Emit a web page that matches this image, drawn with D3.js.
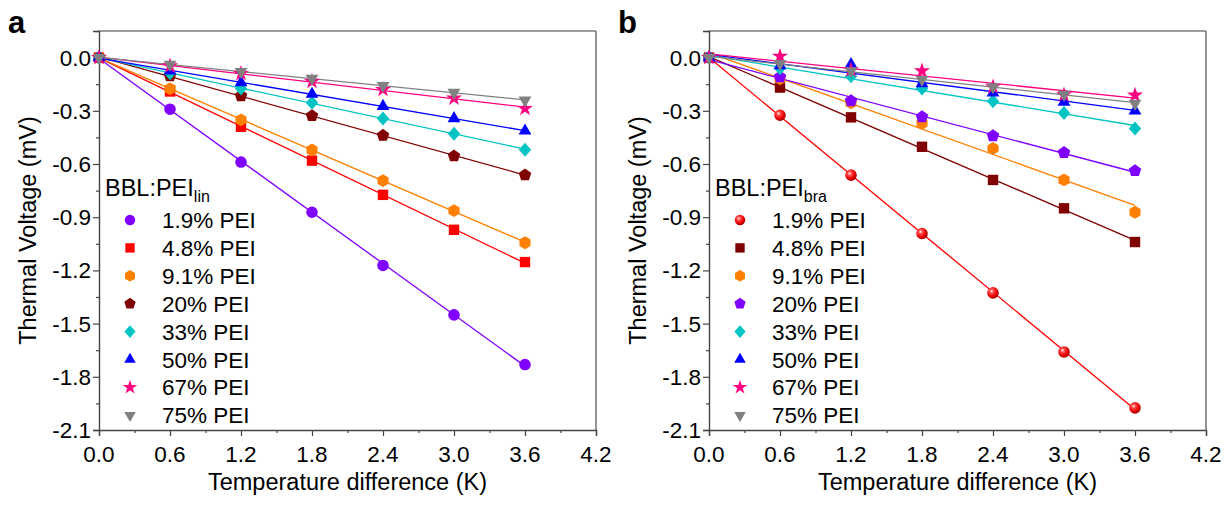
<!DOCTYPE html>
<html>
<head>
<meta charset="utf-8">
<script src="https://cdn.jsdelivr.net/npm/d3@7"></script>
<style>
  html, body { margin: 0; padding: 0; background: #fff; }
  svg { display: block; }
  text { font-family: "Liberation Sans", Arial, sans-serif; fill: #000; }
</style>
</head>
<body>
<svg id="chart" width="1231" height="506"></svg>
<script>
// ---------------- DATA ----------------
const tempDiff = [0, 0.6, 1.2, 1.8, 2.4, 3.0, 3.6];
const seriesLabels = ["1.9% PEI", "4.8% PEI", "9.1% PEI", "20% PEI", "33% PEI", "50% PEI", "67% PEI", "75% PEI"];
const xTickValues = [0, 0.6, 1.2, 1.8, 2.4, 3.0, 3.6, 4.2];
const xTickLabels = ["0.0", "0.6", "1.2", "1.8", "2.4", "3.0", "3.6", "4.2"];
const yTickValues = [0, -0.3, -0.6, -0.9, -1.2, -1.5, -1.8, -2.1];
const yTickLabels = ["0.0", "-0.3", "-0.6", "-0.9", "-1.2", "-1.5", "-1.8", "-2.1"];

// Panel a: BBL:PEI_lin (mV)
const lin_1_9 = [0, -0.291, -0.589, -0.872, -1.172, -1.451, -1.731];
const lin_4_8 = [0, -0.191, -0.390, -0.581, -0.774, -0.971, -1.153];
const lin_9_1 = [0, -0.176, -0.351, -0.521, -0.694, -0.863, -1.044];
const lin_20  = [0, -0.103, -0.216, -0.328, -0.439, -0.555, -0.662];
const lin_33  = [0, -0.088, -0.174, -0.255, -0.343, -0.429, -0.519];
const lin_50  = [0, -0.075, -0.141, -0.206, -0.274, -0.343, -0.413];
const lin_67  = [0, -0.047, -0.090, -0.135, -0.180, -0.229, -0.287];
const lin_75  = [0, -0.038, -0.079, -0.118, -0.158, -0.197, -0.240];

// Panel b: BBL:PEI_bra (mV)
const bra_1_9 = [0, -0.325, -0.663, -0.992, -1.327, -1.660, -1.975];
const bra_4_8 = [0, -0.169, -0.337, -0.503, -0.690, -0.850, -1.040];
const bra_9_1 = [0, -0.120, -0.255, -0.371, -0.512, -0.690, -0.872];
const bra_20  = [0, -0.109, -0.244, -0.334, -0.441, -0.536, -0.638];
const bra_33  = [0, -0.060, -0.105, -0.174, -0.246, -0.312, -0.400];
const bra_50  = [0, -0.045, -0.038, -0.146, -0.199, -0.250, -0.300];
const bra_67  = [0, 0.007, -0.070, -0.075, -0.165, -0.210, -0.212];
const bra_75  = [0, -0.034, -0.075, -0.124, -0.165, -0.208, -0.259];

// ---------------- STYLE ----------------
const C = { purple: "#8000FF", red: "#FF0000", orange: "#FF8000", darkred: "#800000",
            cyan: "#00C4C4", blue: "#0000FF", pink: "#FF0080", gray: "#808080" };
const shapes = ["circle", "square", "hexagon", "pentagon", "diamond", "triUp", "star", "triDown"];

const panels = [
  { letter: "a", sub: "lin", off: 0,
    series: [lin_1_9, lin_4_8, lin_9_1, lin_20, lin_33, lin_50, lin_67, lin_75],
    colors: [C.purple, C.red, C.orange, C.darkred, C.cyan, C.blue, C.pink, C.gray],
    sphere: false },
  { letter: "b", sub: "bra", off: 610,
    series: [bra_1_9, bra_4_8, bra_9_1, bra_20, bra_33, bra_50, bra_67, bra_75],
    colors: [C.red, C.darkred, C.orange, C.purple, C.cyan, C.blue, C.pink, C.gray],
    sphere: true }
];

function polyPath(n, r, rot) {
  const pts = d3.range(n).map(i => {
    const a = rot + i * 2 * Math.PI / n;
    return [r * Math.cos(a), r * Math.sin(a)];
  });
  return "M" + pts.map(p => p[0].toFixed(2) + "," + p[1].toFixed(2)).join("L") + "Z";
}
function shapePath(s) {
  switch (s) {
    case "circle": return d3.symbol(d3.symbolCircle, Math.PI * 5.8 * 5.8)();
    case "square": return "M-5.2,-5.2L5.2,-5.2L5.2,5.2L-5.2,5.2Z";
    case "hexagon": return polyPath(6, 6.4, -Math.PI / 2);
    case "pentagon": return polyPath(5, 6.6, -Math.PI / 2);
    case "diamond": return "M0,-7L6.2,0L0,7L-6.2,0Z";
    case "triUp": return polyPath(3, 7.4, -Math.PI / 2);
    case "star": return d3.symbol(d3.symbolStar, 80)();
    case "triDown": return polyPath(3, 7.4, Math.PI / 2);
  }
}

const svg = d3.select("#chart");
const defs = svg.append("defs");
const grad = defs.append("radialGradient").attr("id", "sphereRed")
  .attr("cx", "0.38").attr("cy", "0.35").attr("r", "0.65");
grad.append("stop").attr("offset", "0").attr("stop-color", "#ffffff");
grad.append("stop").attr("offset", "0.25").attr("stop-color", "#ff5050");
grad.append("stop").attr("offset", "0.7").attr("stop-color", "#ee0000");
grad.append("stop").attr("offset", "1").attr("stop-color", "#a00000");

const yScale = d3.scaleLinear().domain([-2.1, 0.15]).range([430, 31]);

function linReg(xs, ys) {
  const mx = d3.mean(xs), my = d3.mean(ys);
  let sxy = 0, sxx = 0;
  xs.forEach((x, i) => { sxy += (x - mx) * (ys[i] - my); sxx += (x - mx) * (x - mx); });
  const b = sxy / sxx;
  return { b, a: my - b * mx };
}

panels.forEach(P => {
  const left = 99 + P.off, right = 596 + P.off, top = 31, bottom = 430;
  const x = d3.scaleLinear().domain([0, 4.2]).range([left, right]);
  const y = yScale;
  const g = svg.append("g");

  // frame (top/right)
  g.append("line").attr("x1", left).attr("x2", right).attr("y1", top).attr("y2", top)
    .attr("stroke", "#7a7a7a").attr("stroke-width", 1.6);
  g.append("line").attr("x1", right).attr("x2", right).attr("y1", top).attr("y2", bottom)
    .attr("stroke", "#7a7a7a").attr("stroke-width", 1.6);

  // x axis
  const xAxis = d3.axisBottom(x).tickValues(xTickValues).tickSize(6).tickFormat("");
  const xMinor = d3.axisBottom(x).tickValues(d3.range(0.3, 4.2, 0.6)).tickSize(3).tickFormat("");
  const gx = g.append("g").attr("transform", `translate(0,${bottom})`).call(xAxis);
  const gxm = g.append("g").attr("transform", `translate(0,${bottom})`).call(xMinor);
  [gx, gxm].forEach(a => { a.select(".domain").attr("stroke", "#444").attr("stroke-width", 1.4);
    a.selectAll(".tick line").attr("stroke", "#444").attr("stroke-width", 1.2); });
  gxm.select(".domain").remove();
  g.selectAll(null).data(xTickValues).enter().append("text")
    .attr("x", d => x(d)).attr("y", 462).attr("text-anchor", "middle")
    .attr("font-size", 22.5).text((d, i) => xTickLabels[i]);

  // y axis
  const yAxis = d3.axisLeft(y).tickValues(yTickValues).tickSize(6).tickFormat("");
  const yMinor = d3.axisLeft(y).tickValues(d3.range(-1.95, 0.2, 0.3)).tickSize(3).tickFormat("");
  const gy = g.append("g").attr("transform", `translate(${left},0)`).call(yAxis);
  const gym = g.append("g").attr("transform", `translate(${left},0)`).call(yMinor);
  [gy, gym].forEach(a => { a.select(".domain").attr("stroke", "#444").attr("stroke-width", 1.4);
    a.selectAll(".tick line").attr("stroke", "#444").attr("stroke-width", 1.2); });
  gym.select(".domain").remove();
  g.selectAll(null).data(yTickValues).enter().append("text")
    .attr("x", left - 8).attr("y", d => y(d) + 8).attr("text-anchor", "end")
    .attr("font-size", 22.5).text((d, i) => yTickLabels[i]);

  // axis titles
  g.append("text").attr("x", (left + right) / 2).attr("y", 490).attr("text-anchor", "middle")
    .attr("font-size", 23.5).text("Temperature difference (K)");
  g.append("text").attr("transform", `translate(${36 + P.off},${(top + bottom) / 2}) rotate(-90)`)
    .attr("text-anchor", "middle").attr("font-size", 23.5).text("Thermal Voltage (mV)");

  // panel letter
  g.append("text").attr("x", 8 + P.off).attr("y", 33).attr("font-size", 31)
    .attr("font-weight", "bold").text(P.letter);

  // series: fit lines then markers
  P.series.forEach((vals, si) => {
    const col = P.colors[si];
    const fit = linReg(tempDiff, vals);
    const x0 = tempDiff[0], x1 = tempDiff[tempDiff.length - 1];
    g.append("line")
      .attr("x1", x(x0)).attr("y1", y(fit.a + fit.b * x0))
      .attr("x2", x(x1)).attr("y2", y(fit.a + fit.b * x1))
      .attr("stroke", col).attr("stroke-width", 1.3);
  });
  P.series.forEach((vals, si) => {
    const col = P.colors[si];
    const fill = (P.sphere && si === 0) ? "url(#sphereRed)" : col;
    g.selectAll(null).data(tempDiff).enter().append("path")
      .attr("d", shapePath(shapes[si]))
      .attr("transform", (d, i) => `translate(${x(d)},${y(vals[i])})`)
      .attr("fill", fill);
  });

  // legend
  const lx = left + 6;
  const lt = g.append("text").attr("x", lx).attr("y", 196).attr("font-size", 23.5);
  lt.append("tspan").text("BBL:PEI");
  lt.append("tspan").attr("font-size", 16).attr("dy", 6).text(P.sub);
  seriesLabels.forEach((lab, si) => {
    const cy = 220 + si * 27.9;
    const fill = (P.sphere && si === 0) ? "url(#sphereRed)" : P.colors[si];
    g.append("path").attr("d", shapePath(shapes[si]))
      .attr("transform", `translate(${left + 31},${cy}) scale(0.9)`).attr("fill", fill);
    g.append("text").attr("x", left + 63).attr("y", cy + 8).attr("font-size", 22.5).text(lab);
  });
});
</script>
</body>
</html>
